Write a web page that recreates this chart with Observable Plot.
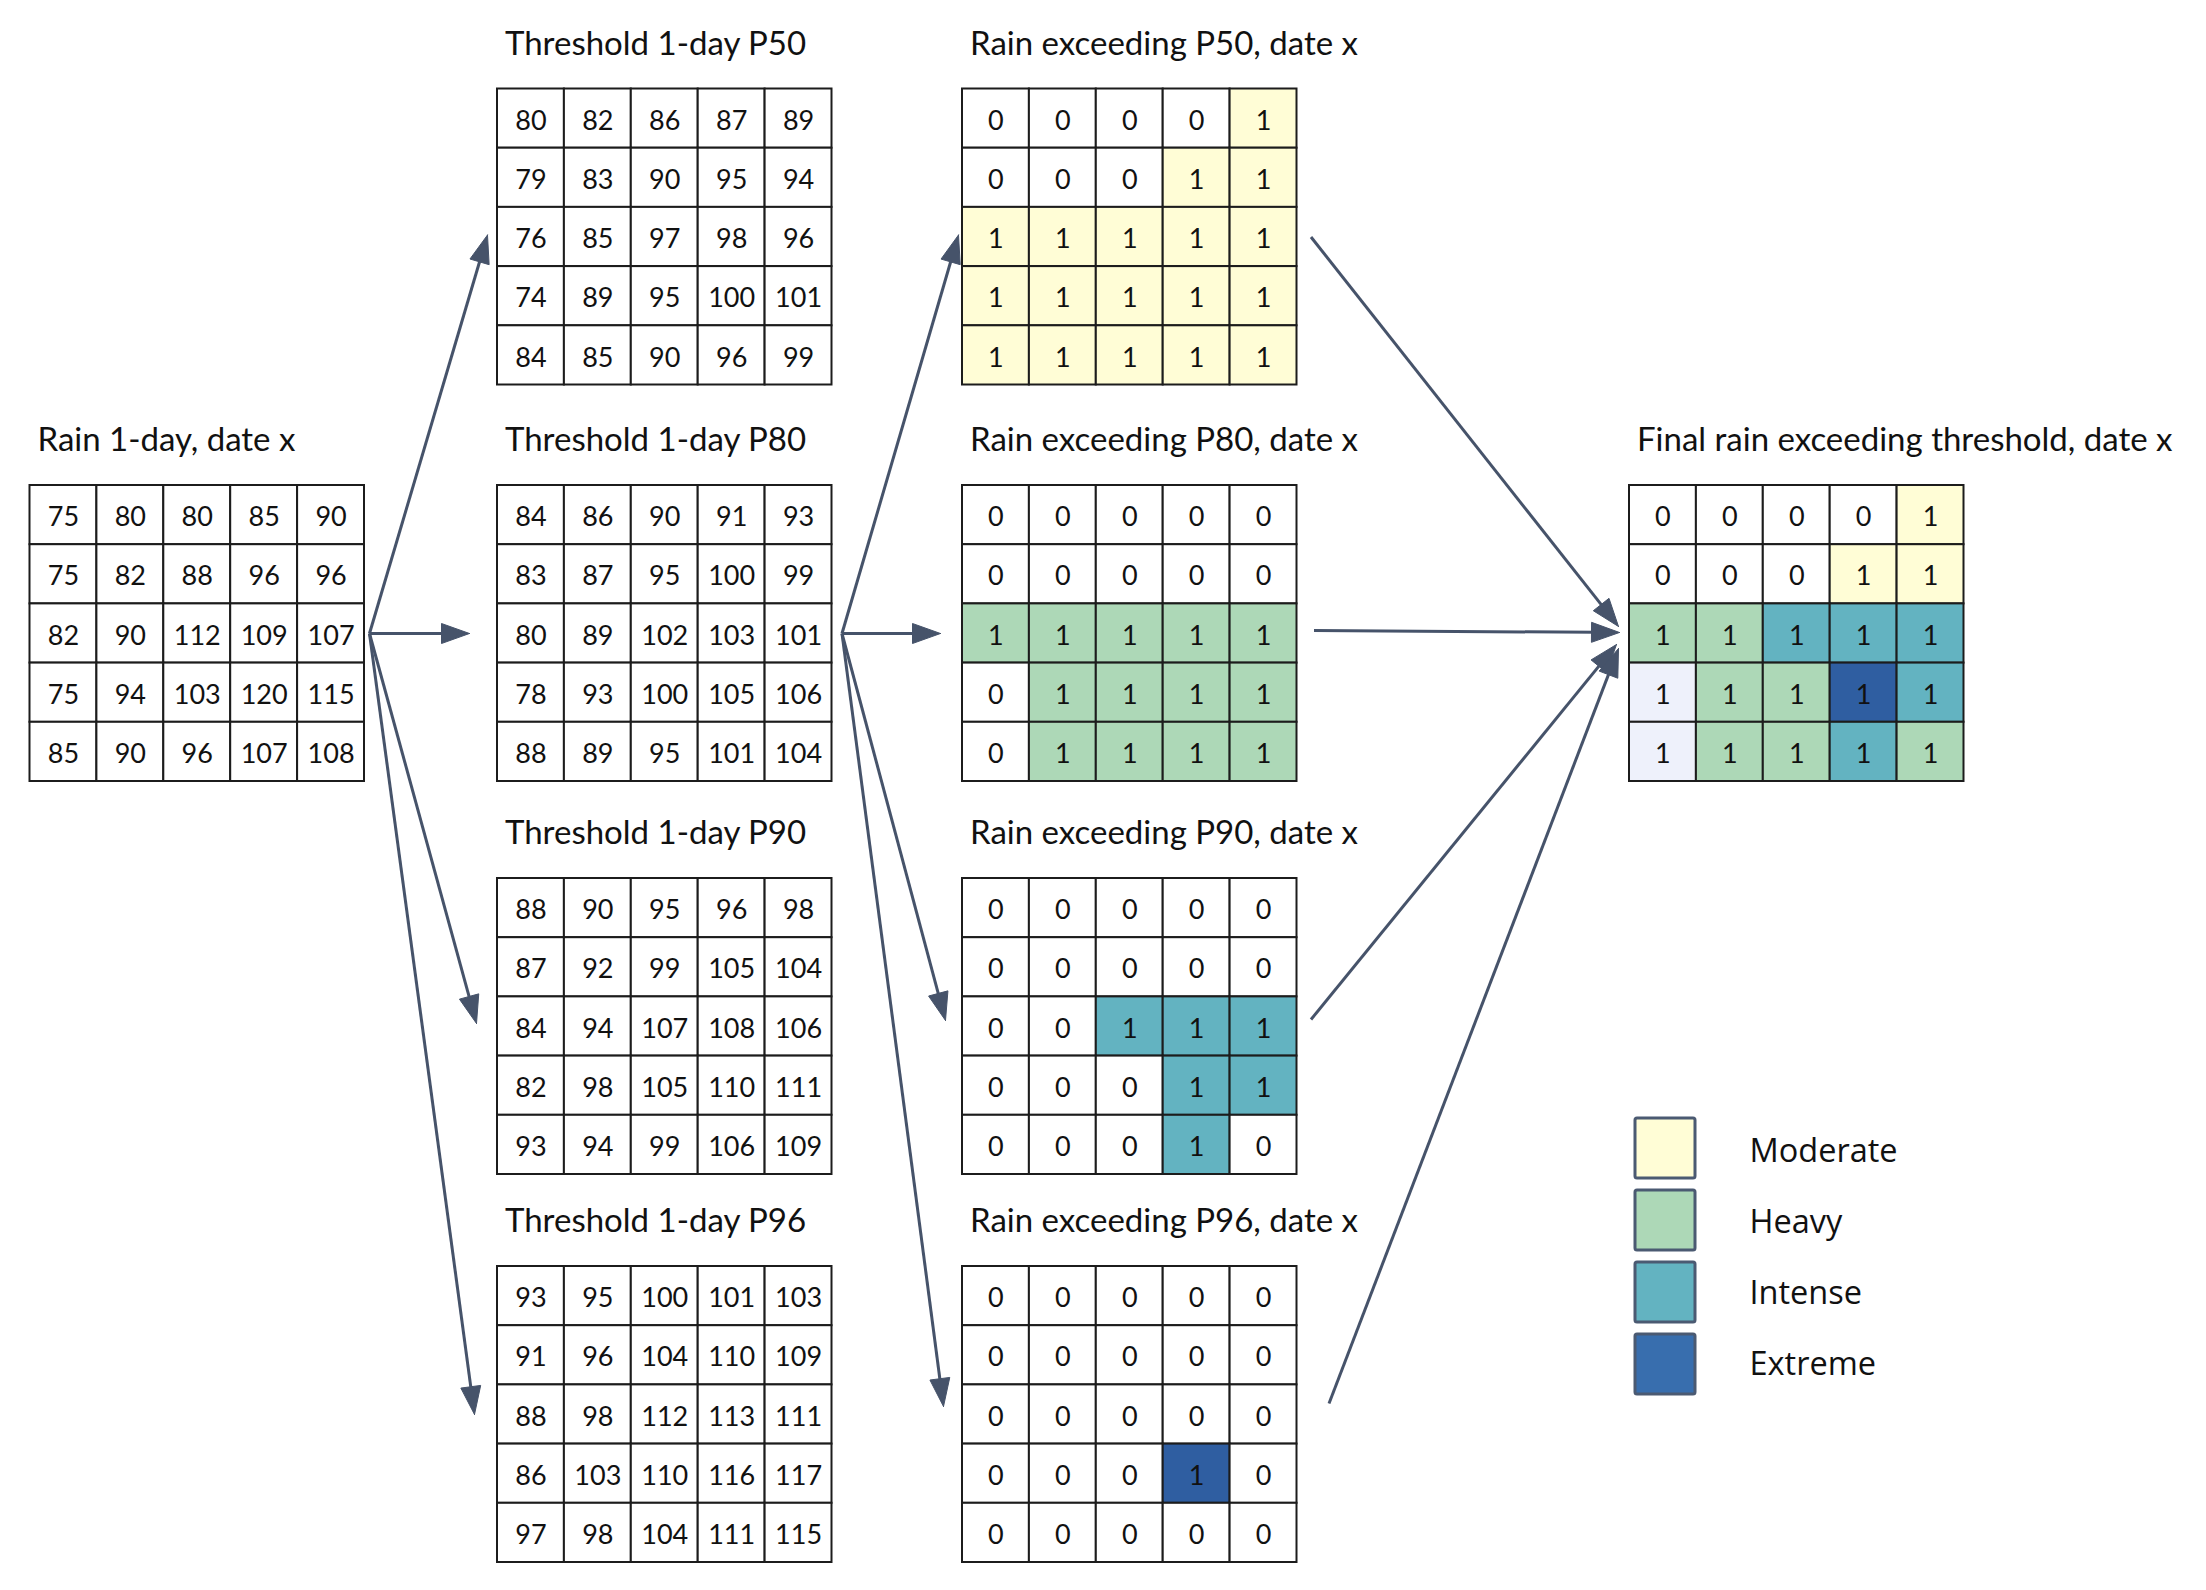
<!DOCTYPE html>
<html><head><meta charset="utf-8">
<script src="https://cdn.jsdelivr.net/npm/d3@7"></script>
<script src="https://cdn.jsdelivr.net/npm/@observablehq/plot@0.6"></script>
<style>body{margin:0;background:#fff;} svg{display:block}</style>
</head><body><div id="chart"></div>
<script>
// ---------- DATA ----------
const rain = [[75,80,80,85,90],[75,82,88,96,96],[82,90,112,109,107],[75,94,103,120,115],[85,90,96,107,108]];
const p50  = [[80,82,86,87,89],[79,83,90,95,94],[76,85,97,98,96],[74,89,95,100,101],[84,85,90,96,99]];
const p80  = [[84,86,90,91,93],[83,87,95,100,99],[80,89,102,103,101],[78,93,100,105,106],[88,89,95,101,104]];
const p90  = [[88,90,95,96,98],[87,92,99,105,104],[84,94,107,108,106],[82,98,105,110,111],[93,94,99,106,109]];
const p96  = [[93,95,100,101,103],[91,96,104,110,109],[88,98,112,113,111],[86,103,110,116,117],[97,98,104,111,115]];
const exceedP50 = [[0,0,0,0,1],[0,0,0,1,1],[1,1,1,1,1],[1,1,1,1,1],[1,1,1,1,1]];
const exceedP80 = [[0,0,0,0,0],[0,0,0,0,0],[1,1,1,1,1],[0,1,1,1,1],[0,1,1,1,1]];
const exceedP90 = [[0,0,0,0,0],[0,0,0,0,0],[0,0,1,1,1],[0,0,0,1,1],[0,0,0,1,0]];
const exceedP96 = [[0,0,0,0,0],[0,0,0,0,0],[0,0,0,0,0],[0,0,0,1,0],[0,0,0,0,0]];
const finalValues = [[0,0,0,0,1],[0,0,0,1,1],[1,1,1,1,1],[1,1,1,1,1],[1,1,1,1,1]];
const finalClass = [
  ["none","none","none","none","Moderate"],
  ["none","none","none","Moderate","Moderate"],
  ["Heavy","Heavy","Intense","Intense","Intense"],
  ["Pale","Heavy","Heavy","Extreme","Intense"],
  ["Pale","Heavy","Heavy","Intense","Heavy"]];
const legendClasses = ["Moderate","Heavy","Intense","Extreme"];
const titles = {
  rain:"Rain 1-day, date x",
  p50:"Threshold 1-day P50", p80:"Threshold 1-day P80", p90:"Threshold 1-day P90", p96:"Threshold 1-day P96",
  e50:"Rain exceeding P50, date x", e80:"Rain exceeding P80, date x", e90:"Rain exceeding P90, date x", e96:"Rain exceeding P96, date x",
  final:"Final rain exceeding threshold, date x"};
const links = [
  ["rain","p50"],["rain","p80"],["rain","p90"],["rain","p96"],
  ["p80","e50"],["p80","e80"],["p80","e90"],["p80","e96"],
  ["e50","final"],["e80","final"],["e90","final"],["e96","final"]];

// ---------- LAYOUT / STYLE ----------
const W = 2206, H = 1590;
const cellW = 66.9, cellH = 59.2;
const origin = {rain:[29.5,485], p50:[497,88.5], p80:[497,485], p90:[497,878], p96:[497,1266],
  e50:[962,88.5], e80:[962,485], e90:[962,878], e96:[962,1266], final:[1629,485]};
// per-arrow anchor tweaks: [source gap, source dy, target gap, target dy]
const arrowTweak = [
  [5,0,10,-2],[5,0,28,0],[5,0,21,-3],[5,0,23,0],
  [10,0,4,-2],[10,0,22,0],[10,0,17,-6],[10,0,19,-8],
  [14,0,11,-7],[17,-3,10,-1],[14,-7,13,11],[32,-11,11,15]];
const headLen = 28, headHalf = 10;
const arrowColor = "#46536a";
const colorDomain = ["none","Moderate","Heavy","Intense","Extreme","Pale","key:Extreme"];
const colorRange  = ["#ffffff","#fffdd6","#add8b7","#63b3c1","#2f5ea1","#eef1fb","#386eae"];

const gridSpecs = [
  ["rain", rain, () => "none"],
  ["p50", p50, () => "none"], ["p80", p80, () => "none"], ["p90", p90, () => "none"], ["p96", p96, () => "none"],
  ["e50", exceedP50, v => v ? "Moderate" : "none"],
  ["e80", exceedP80, v => v ? "Heavy" : "none"],
  ["e90", exceedP90, v => v ? "Intense" : "none"],
  ["e96", exceedP96, v => v ? "Extreme" : "none"],
  ["final", finalValues, (v,i,j) => finalClass[i][j]]];

const cells = [];
for (const [id, vals, cls] of gridSpecs) {
  vals.forEach((row, i) => row.forEach((v, j) => cells.push({id, row:i, col:j, value:v, cls: cls(v,i,j)})));
}
const gx1 = d => origin[d.id][0] + d.col * cellW;
const gy1 = d => origin[d.id][1] + d.row * cellH;
const titleRows = Object.keys(titles).map(id => ({id, text: titles[id]}));

const midY = id => origin[id][1] + 2.5 * cellH;
const arrows = links.map(([a, b], k) => {
  const t = arrowTweak[k];
  const x1 = origin[a][0] + 5 * cellW + t[0], y1 = midY(a) + t[1];
  const x2 = origin[b][0] - t[2], y2 = midY(b) + t[3];
  const len = Math.hypot(x2 - x1, y2 - y1), ux = (x2 - x1) / len, uy = (y2 - y1) / len;
  return {k, x1, y1, x2, y2, ux, uy};
});
const heads = arrows.flatMap(a => {
  const bx = a.x2 - a.ux * headLen, by = a.y2 - a.uy * headLen;
  const px = -a.uy * headHalf, py = a.ux * headHalf;
  return [{k:a.k, x:a.x2, y:a.y2}, {k:a.k, x:bx + px, y:by + py}, {k:a.k, x:bx - px, y:by - py}, {k:a.k, x:a.x2, y:a.y2}];
});
const legendRows = legendClasses.map((c, i) => ({c, i}));
const keyLeft = 1635, keyTop = 1118, keySize = 60, keyStep = 72, keyText = 1749, keyTextTop = 1151.5, keyTextStep = 70.7;

const plot = Plot.plot({
  width: W, height: H, margin: 0,
  x: {domain: [0, W], range: [0, W], axis: null},
  y: {domain: [0, H], range: [0, H], axis: null},
  color: {type: "ordinal", domain: colorDomain, range: colorRange},
  style: {background: "#fff", fontFamily: "Lato, sans-serif"},
  marks: [
    Plot.rect(cells, {x1: gx1, x2: d => gx1(d) + cellW, y1: gy1, y2: d => gy1(d) + cellH,
      fill: "cls", stroke: "#1c1c1c", strokeWidth: 2}),
    Plot.text(cells, {x: d => gx1(d) + cellW / 2, y: d => gy1(d) + cellH / 2, text: d => String(d.value),
      fontSize: 27, fill: "#111", dy: 2.5, fontFamily: "Lato"}),
    Plot.text(titleRows, {x: d => origin[d.id][0] + 7.5, y: d => origin[d.id][1] - 33 - 12, text: "text",
      textAnchor: "start", fontSize: 33, fill: "#111", fontFamily: "Lato"}),
    Plot.link(arrows, {x1: "x1", y1: "y1", x2: d => d.x2 - d.ux * (headLen - 4), y2: d => d.y2 - d.uy * (headLen - 4),
      stroke: arrowColor, strokeWidth: 3}),
    Plot.line(heads, {x: "x", y: "y", z: "k", fill: arrowColor, stroke: arrowColor, strokeWidth: 1, curve: "linear"}),
    Plot.rect(legendRows, {x1: keyLeft, x2: keyLeft + keySize, y1: d => keyTop + d.i * keyStep, y2: d => keyTop + d.i * keyStep + keySize,
      fill: d => d.c === "Extreme" ? "key:Extreme" : d.c, stroke: "#4b5a72", strokeWidth: 3, rx: 2}),
    Plot.text(legendRows, {x: keyText, y: d => keyTextTop + d.i * keyTextStep, text: "c",
      textAnchor: "start", fontSize: 32.5, fill: "#111", fontFamily: "Open Sans"})
  ]
});
document.getElementById("chart").appendChild(plot);
</script>
</body></html>
